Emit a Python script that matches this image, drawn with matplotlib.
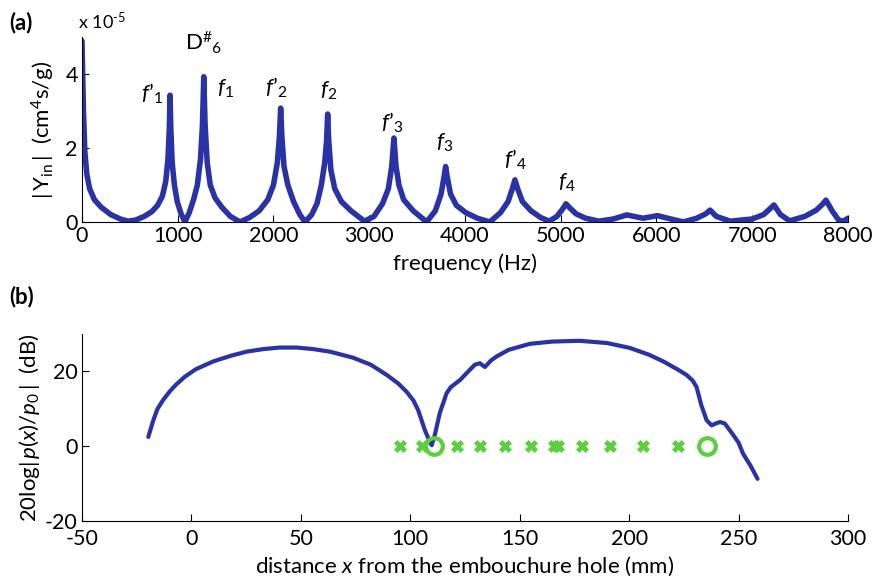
import numpy as np
import matplotlib
matplotlib.use('Agg')
import matplotlib.pyplot as plt

plt.rcParams['font.family'] = ['Lato', 'DejaVu Sans']
plt.rcParams['mathtext.fontset'] = 'custom'
plt.rcParams['mathtext.rm'] = 'Lato'
plt.rcParams['mathtext.it'] = 'Lato:italic'
plt.rcParams['mathtext.bf'] = 'Lato:bold'
plt.rcParams['axes.unicode_minus'] = False

# (a) input admittance (Hz, x1e-5 cm^4 s/g)
freq = [0, 15, 30, 50, 80, 130, 200, 300, 400, 480, 560, 650, 730, 790, 840, 875, 898, 912,
        920, 928, 942, 965, 995, 1035, 1075, 1120, 1165, 1205, 1238, 1258, 1272, 1286, 1308,
        1340, 1390, 1460, 1550, 1650, 1750, 1850, 1940, 2000, 2040, 2062, 2075, 2088, 2110,
        2150, 2210, 2275, 2330, 2400, 2455, 2500, 2535, 2555, 2566, 2577, 2600, 2640, 2710,
        2810, 2950, 3050, 3140, 3200, 3235, 3258, 3280, 3310, 3360, 3460, 3600, 3690, 3750,
        3780, 3798, 3816, 3850, 3910, 4010, 4130, 4260, 4370, 4450, 4495, 4522, 4550, 4600,
        4690, 4790, 4880, 4960, 5020, 5055, 5095, 5160, 5260, 5400, 5550, 5690, 5860, 6010,
        6150, 6280, 6420, 6515, 6560, 6625, 6770, 7000, 7120, 7195, 7227, 7295, 7390, 7550,
        7670, 7735, 7770, 7835, 7900, 7950, 8000]
admit = [4.9, 3.0, 1.9, 1.3, 0.9, 0.6, 0.4, 0.2, 0.08, 0.02, 0.05, 0.15, 0.28, 0.45, 0.7, 1.1,
         1.7, 2.5, 3.43, 2.5, 1.6, 1.0, 0.55, 0.22, 0.0, 0.25, 0.6, 1.0, 1.7, 2.6, 3.93, 2.6,
         1.6, 1.0, 0.65, 0.4, 0.15, 0.0, 0.12, 0.3, 0.6, 1.0, 1.6, 2.3, 3.08, 2.3, 1.5, 1.0,
         0.55, 0.2, 0.0, 0.2, 0.5, 1.0, 1.6, 2.2, 2.92, 2.2, 1.4, 0.9, 0.55, 0.3, 0.02, 0.15,
         0.5, 0.9, 1.5, 2.27, 1.5, 1.0, 0.6, 0.3, 0.0, 0.3, 0.75, 1.2, 1.5, 1.2, 0.75, 0.45,
         0.25, 0.1, 0.0, 0.25, 0.55, 0.9, 1.14, 0.9, 0.55, 0.3, 0.12, 0.02, 0.15, 0.35, 0.49,
         0.38, 0.22, 0.1, 0.02, 0.08, 0.19, 0.1, 0.17, 0.08, 0.0, 0.1, 0.22, 0.32, 0.15, 0.02,
         0.08, 0.2, 0.38, 0.46, 0.2, 0.03, 0.15, 0.32, 0.48, 0.59, 0.3, 0.06, 0.02, 0.1]

peak_labels = [r"$f\mathrm{’}_1$", r"$\mathrm{D}^{\#}{}_{6}$", r"$f_1$", r"$f\mathrm{’}_2$",
               r"$f_2$", r"$f\mathrm{’}_3$", r"$f_3$", r"$f\mathrm{’}_4$", r"$f_4$"]
label_f = [731, 1274, 1504, 2026, 2580, 3238, 3791, 4522, 5065]
label_v = [3.46, 4.86, 3.59, 3.62, 3.54, 2.68, 2.13, 1.68, 1.05]

# (b) pressure distribution along the bore (mm, dB)
dist = [-19.7, -17.5, -15.5, -12.9, -10.0, -7.0, -3.0, 2.0, 10.0, 18.0, 25.2, 33.0, 40.4, 48.0,
        55.5, 63.3, 73.8, 82.0, 89.2, 94.5, 98.3, 101.5, 103.6, 106.7, 108.5, 109.8, 111.2,
        113.5, 116.6, 118.5, 122.7, 126.0, 129.5, 131.8, 134.1, 137.0, 139.4, 145.0, 154.7,
        165.0, 177.5, 190.0, 200.3, 209.0, 215.6, 222.0, 226.2, 229.0, 230.8, 233.0, 235.4,
        237.7, 240.0, 241.5, 243.7, 247.0, 250.0, 252.1, 255.5, 258.7]
level = [2.5, 6.8, 10.0, 12.4, 14.6, 16.5, 18.6, 20.6, 22.7, 24.2, 25.3, 26.0, 26.4, 26.4,
         26.0, 25.3, 23.7, 21.8, 19.1, 16.8, 14.6, 12.2, 9.7, 4.3, 1.8, 0.3, 3.0, 8.9, 14.2,
         15.8, 17.7, 19.7, 21.8, 22.2, 21.2, 23.0, 24.0, 25.8, 27.4, 28.0, 28.2, 27.6, 26.3,
         24.5, 22.7, 20.6, 19.1, 17.6, 15.9, 11.0, 7.0, 5.6, 6.2, 6.5, 6.1, 3.5, 1.0, -2.0,
         -5.2, -8.7]

hole_x = [95.3, 105.2, 121.5, 131.8, 143.2, 155.4, 165.8, 167.4, 178.7, 191.2, 206.4, 222.4]
hole_y = [0] * len(hole_x)
open_x = [111.0, 235.6]
open_y = [0, 0]

blue = '#2a33a6'
green = '#5ccf3e'

fig = plt.figure(figsize=(8.74, 5.81), dpi=100)

ax = fig.add_axes([0.0938, 0.618, 0.8764, 0.318])
ax.plot(freq, admit, color=blue, lw=4.0, solid_joinstyle='round', solid_capstyle='round')
for lab, fx, fy in zip(peak_labels, label_f, label_v):
    ax.text(fx, fy, lab, fontsize=16, ha='center', va='center')
ax.text(-0.005, 1.085, 'x 10$^{\\mathregular{\u2010}\\mathregular{5}}$', transform=ax.transAxes,
        fontsize=13, ha='left', va='center')
ax.set_xlim(0, 8000)
ax.set_ylim(0, 5)
ax.set_xticks(np.arange(0, 8001, 1000))
ax.set_yticks([0, 2, 4])
ax.set_xlabel('frequency (Hz)', fontsize=16, labelpad=5)
ax.set_ylabel(r'$|\,\mathrm{Y}_{\mathrm{in}}\,|$  (cm$^4$s/g)', fontsize=16, labelpad=6)
ax.text(-0.095, 1.08, '(a)', transform=ax.transAxes, fontsize=16, fontweight='bold',
        ha='left', va='center')

ax2 = fig.add_axes([0.0938, 0.103, 0.8764, 0.322])
ax2.plot(dist, level, color=blue, lw=3.0, solid_joinstyle='round', solid_capstyle='round')
ax2.plot(hole_x, hole_y, 'X', color=green, ms=9, mec=green, mew=0.5, ls='none')
ax2.plot(open_x, open_y, 'o', mfc='none', mec=green, ms=12, mew=3, ls='none')
ax2.set_xlim(-50, 300)
ax2.set_ylim(-20, 30)
ax2.set_xticks(np.arange(-50, 301, 50))
ax2.set_yticks([-20, 0, 20])
ax2.set_xlabel(r'distance $x$ from the embouchure hole (mm)', fontsize=16, labelpad=4)
ax2.set_ylabel(r'20log$|\,p(x)/p_0\,|$  (dB)', fontsize=16, labelpad=2)
ax2.text(-0.095, 1.2, '(b)', transform=ax2.transAxes, fontsize=16, fontweight='bold',
         ha='left', va='center')

for a in (ax, ax2):
    a.spines['top'].set_visible(False)
    a.spines['right'].set_visible(False)
    a.tick_params(direction='in', length=5, width=0.8, labelsize=15.5, pad=3)
ax2.tick_params(axis='x', pad=6)

plt.savefig('out.png', dpi=100)
